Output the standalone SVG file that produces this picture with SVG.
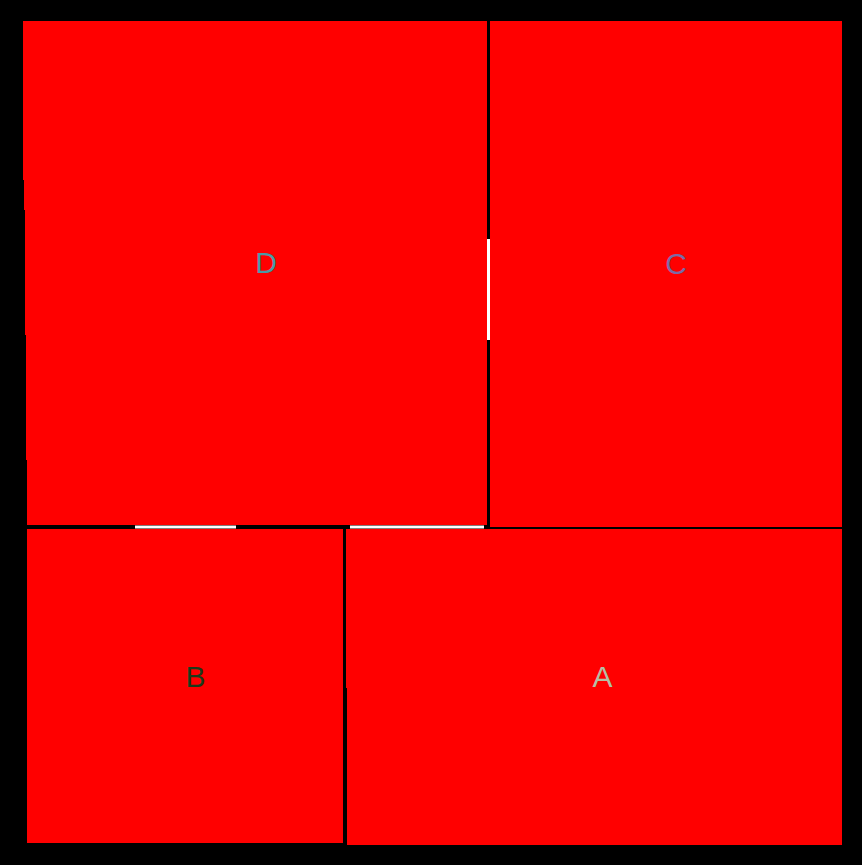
<svg xmlns="http://www.w3.org/2000/svg" width="862" height="865" viewBox="0 0 862 865">
<style>
.box{fill:#ff0000;stroke:none}
.lbl{font-family:"Liberation Sans",Arial,sans-serif;font-size:30px;text-anchor:middle;dominant-baseline:central}
.gap{stroke:#ffffff;stroke-width:3;fill:none}
</style>
<rect x="0" y="0" width="862" height="865" fill="#000000"/>
<g id="D">
<polygon class="box" points="23,21 487,21 487,525 27,525 27,460 26,460 26,335 25,335 25,210 24,210 24,180 23,180"/>
<text class="lbl" x="266" y="262" fill="#4a9aa8">D</text>
</g>
<g id="C">
<rect class="box" x="490" y="21" width="352" height="506"/>
<text class="lbl" x="676" y="263" fill="#7b6aa6">C</text>
</g>
<g id="B">
<rect class="box" x="27" y="529" width="316" height="314"/>
<text class="lbl" x="195.5" y="676" fill="#1a3a1a">B</text>
</g>
<g id="A">
<polygon class="box" points="346,529 842,529 842,845 347,845 347,688 346,688"/>
<text class="lbl" x="602.5" y="676" fill="#b4bea4">A</text>
</g>
<g id="connectors">
<line class="gap" x1="488.5" y1="239" x2="488.5" y2="340"/>
<line class="gap" x1="135" y1="527" x2="236" y2="527"/>
<line class="gap" x1="350" y1="527" x2="484" y2="527"/>
</g>
</svg>
